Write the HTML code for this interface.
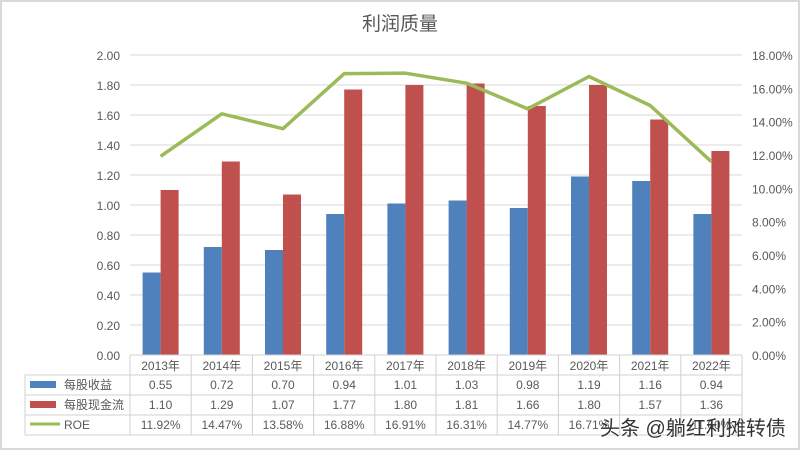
<!DOCTYPE html>
<html><head><meta charset="utf-8"><style>
body{margin:0;background:#fff;}
svg{display:block;font-family:"Liberation Sans","Noto Sans CJK SC",sans-serif;}
</style></head><body>
<svg width="800" height="450" viewBox="0 0 800 450">
<rect x="1" y="1" width="798" height="448" fill="#fff" stroke="#d9d9d9" stroke-width="2"/>
<text x="400" y="30" text-anchor="middle" font-size="19" fill="#595959">利润质量</text>
<g id="g"></g>
</svg>
<script>
const categories=["2013年","2014年","2015年","2016年","2017年","2018年","2019年","2020年","2021年","2022年"];
const eps=[0.55,0.72,0.70,0.94,1.01,1.03,0.98,1.19,1.16,0.94];
const cashflow=[1.10,1.29,1.07,1.77,1.80,1.81,1.66,1.80,1.57,1.36];
const roe=[11.92,14.47,13.58,16.88,16.91,16.31,14.77,16.71,14.97,11.6];
const roeLabels=["11.92%","14.47%","13.58%","16.88%","16.91%","16.31%","14.77%","16.71%","","11.60%"];
const leftTicks=[0,0.2,0.4,0.6,0.8,1.0,1.2,1.4,1.6,1.8,2.0];
const rightTicks=[0,2,4,6,8,10,12,14,16,18];
const NS="http://www.w3.org/2000/svg";
const g=document.getElementById('g');
const L=130,R=742,T=55,B=355,cw=(R-L)/categories.length;
const yL=v=>B-(v/2)*(B-T);
const yR=v=>B-(v/18)*(B-T);
const xc=i=>L+cw*(i+0.5);
function mk(t,a,txt){const e=document.createElementNS(NS,t);for(const k in a)e.setAttribute(k,a[k]);if(txt!==undefined)e.textContent=txt;g.appendChild(e);return e;}
leftTicks.forEach(v=>{
 const l=mk('line',{x1:L,x2:R,y1:yL(v),y2:yL(v),stroke:'#d9d9d9'});
 
 
 const t=mk('text',{x:120,y:yL(v)+5,'text-anchor':'end','font-size':12,fill:'#595959'},v.toFixed(2));
 
 
});
rightTicks.forEach(v=>{
 const t=mk('text',{x:752,y:yR(v)+5,'font-size':12,fill:'#595959'},v.toFixed(2)+'%');
 
 
});
categories.forEach((c,i)=>{
 const b1=mk('rect',{x:xc(i)-18,y:yL(eps[i]),width:18,height:B-yL(eps[i]),fill:'#4f81bd'});
 
 
 const b2=mk('rect',{x:xc(i),y:yL(cashflow[i]),width:18,height:B-yL(cashflow[i]),fill:'#c0504d'});
 
 
});
const pl=mk('polyline',{points:roe.map((v,i)=>xc(i)+','+yR(v)).join(' '),fill:'none',stroke:'#9bbb59','stroke-width':3.5,'stroke-linejoin':'round'});


// table
const rows=[B,375,395,415,435];
const tl=25;
[[L,R,B],[tl,R,375],[tl,R,395],[tl,R,415],[tl,R,435]].forEach(r=>{
 const l=mk('line',{x1:r[0],x2:r[1],y1:r[2],y2:r[2],stroke:'#d0d0d0'});
 
 
});
const v0=mk('line',{x1:tl,x2:tl,y1:375,y2:435,stroke:'#d0d0d0'});


for(let i=0;i<=categories.length;i++){
 const l=mk('line',{x1:L+cw*i,x2:L+cw*i,y1:B,y2:435,stroke:'#d0d0d0'});
 
 
}
categories.forEach((c,i)=>{
 const t=mk('text',{x:xc(i),y:370,'text-anchor':'middle','font-size':12,fill:'#595959'},c);
 
 
 const a=mk('text',{x:xc(i),y:389,'text-anchor':'middle','font-size':12,fill:'#595959'},eps[i].toFixed(2));
 
 
 const b=mk('text',{x:xc(i),y:409,'text-anchor':'middle','font-size':12,fill:'#595959'},cashflow[i].toFixed(2));
 
 
 const d=mk('text',{x:xc(i),y:429,'text-anchor':'middle','font-size':12,fill:'#595959'},roeLabels[i]);
 
 
});
const k1=mk('rect',{x:30,y:381,width:26,height:7,fill:'#4f81bd'});


const k2=mk('rect',{x:30,y:401,width:26,height:7,fill:'#c0504d'});


const k3=mk('line',{x1:30,x2:60,y1:424,y2:424,stroke:'#9bbb59','stroke-width':3});


const n1=mk('text',{x:64,y:389,'font-size':12,fill:'#595959'},'每股收益');


const n2=mk('text',{x:64,y:409,'font-size':12,fill:'#595959'},'每股现金流');


const n3=mk('text',{x:64,y:429,'font-size':12,fill:'#595959'},'ROE');


const w=mk('text',{x:600,y:435,'font-size':20,fill:'#333'},'头条 @躺红利摊转债');


</script>
</body></html>
